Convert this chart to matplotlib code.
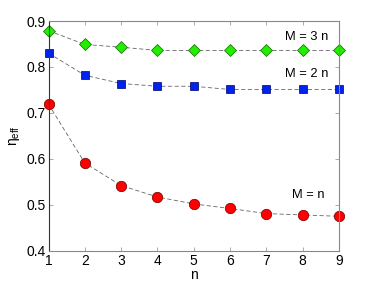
import matplotlib
matplotlib.use("Agg")
import matplotlib.pyplot as plt

n = [1, 2, 3, 4, 5, 6, 7, 8, 9]
eta_m1 = [0.719, 0.591, 0.542, 0.517, 0.502, 0.492, 0.481, 0.478, 0.475]
eta_m2 = [0.830, 0.782, 0.764, 0.758, 0.758, 0.751, 0.751, 0.751, 0.751]
eta_m3 = [0.879, 0.849, 0.843, 0.836, 0.836, 0.836, 0.836, 0.836, 0.836]
xticks = [1, 2, 3, 4, 5, 6, 7, 8, 9]
yticks = [0.4, 0.5, 0.6, 0.7, 0.8, 0.9]

plt.rcParams['font.family'] = ['Liberation Sans', 'DejaVu Sans']
plt.rcParams['mathtext.fontset'] = 'custom'
plt.rcParams['mathtext.rm'] = 'Liberation Sans'
plt.rcParams['mathtext.it'] = 'Liberation Sans'
fig = plt.figure(figsize=(3.74, 2.84), dpi=100)
ax = fig.add_axes([0.1297, 0.117, 0.7763, 0.809])

lc = '#666666'
ax.plot(n, eta_m3, ls=(0, (5, 3)), lw=0.6, color=lc, marker='D', ms=6.5,
        mfc='#22ee00', mec='#116600', mew=0.5)
ax.plot(n, eta_m2, ls=(0, (5, 3)), lw=0.6, color=lc, marker='s', ms=6,
        mfc='#0022ee', mec='#000066', mew=0.5)
ax.plot(n, eta_m1, ls=(0, (5, 3)), lw=0.6, color=lc, marker='o', ms=7.5,
        mfc='#ff0000', mec='#660000', mew=0.5)

ax.text(8.12, 0.865, 'M = 3 n', ha='center', va='center', fontsize=9.3)
ax.text(8.12, 0.785, 'M = 2 n', ha='center', va='center', fontsize=9.3)
ax.text(8.15, 0.521, 'M = n', ha='center', va='center', fontsize=9.3)

ax.set_xlim(1, 9)
ax.set_ylim(0.4, 0.9)
ax.set_xticks(xticks)
ax.set_yticks(yticks)
ax.set_yticklabels([f'{v:.1f}' for v in yticks])
ax.tick_params(direction='in', top=True, right=True, length=3, width=0.5,
               color='#888888', labelsize=10, pad=2)
for s in ax.spines.values():
    s.set_color('#888888')
    s.set_linewidth(0.8)
ax.spines['left'].set_color('#333333')
ax.set_xlabel('n', fontsize=10, labelpad=0)
ax.set_ylabel(r'$\mathregular{\eta_{eff}}$', fontsize=10, labelpad=3)
for line in ax.lines:
    line.set_clip_on(False)

fig.savefig('out.png', dpi=100)
